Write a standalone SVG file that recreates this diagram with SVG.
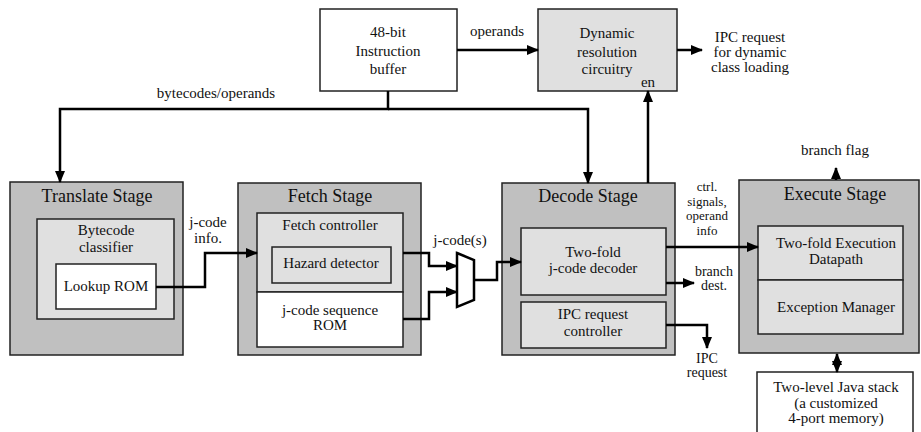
<svg xmlns="http://www.w3.org/2000/svg" width="921" height="432" viewBox="0 0 921 432" font-family="'Liberation Serif', 'DejaVu Serif', serif">
<defs>
<marker id="arr" markerUnits="userSpaceOnUse" markerWidth="12" markerHeight="10" refX="11" refY="5" orient="auto-start-reverse">
<path d="M0,0 L12,5 L0,10 Z" fill="#000"/>
</marker>
<style>
text{font-family:'Liberation Serif','DejaVu Serif',serif;font-size:15px;fill:#111;text-anchor:middle}
.title{font-size:18px}
.sm{font-size:13px}
.md{font-size:14px}
.stage{fill:#c0c0c0;stroke:#222;stroke-width:1.5}
.inner{fill:#e0e0e0;stroke:#222;stroke-width:1.5}
.white{fill:#fff;stroke:#222;stroke-width:1.5}
.conn{fill:none;stroke:#000;stroke-width:2.5}
</style>
</defs>
<rect width="921" height="432" fill="#fff"/>

<g id="instruction-buffer">
<rect class="white" x="320" y="9" width="137" height="82"/>
<text x="388" y="37">48-bit</text>
<text x="388" y="56">Instruction</text>
<text x="388" y="74">buffer</text>
</g>

<g id="dynamic-resolution">
<rect class="inner" x="538" y="9" width="139" height="82"/>
<text x="607" y="38">Dynamic</text>
<text x="607" y="57">resolution</text>
<text x="607" y="74">circuitry</text>
<text x="648" y="87">en</text>
</g>

<g id="translate-stage">
<rect class="stage" x="10" y="182" width="173" height="173"/>
<text class="title" x="97" y="202">Translate Stage</text>
<rect class="inner" x="37" y="219" width="137" height="100"/>
<text x="106" y="235">Bytecode</text>
<text x="106" y="252">classifier</text>
<rect class="white" x="56" y="264" width="100" height="45"/>
<text x="106" y="291">Lookup ROM</text>
</g>

<g id="fetch-stage">
<rect class="stage" x="238" y="183" width="183" height="172"/>
<text class="title" x="330" y="202">Fetch Stage</text>
<rect class="inner" x="257" y="213" width="146" height="79"/>
<text x="330" y="230">Fetch controller</text>
<rect class="inner" x="272" y="247" width="119" height="36"/>
<text x="331" y="268">Hazard detector</text>
<rect class="white" x="257" y="292" width="146" height="55"/>
<text x="330" y="315">j-code sequence</text>
<text x="330" y="330">ROM</text>
</g>

<g id="mux">
<path d="M457,253 L474,260 L474,300 L457,307 Z" fill="#fff" stroke="#000" stroke-width="2.5"/>
<text x="460" y="245">j-code(s)</text>
</g>

<g id="decode-stage">
<rect class="stage" x="502" y="183" width="173" height="172"/>
<text class="title" x="588" y="202">Decode Stage</text>
<rect class="inner" x="521" y="228" width="145" height="67"/>
<text x="593" y="257">Two-fold</text>
<text x="593" y="273">j-code decoder</text>
<rect class="inner" x="521" y="302" width="145" height="46"/>
<text x="593" y="319">IPC request</text>
<text x="593" y="336">controller</text>
</g>

<g id="execute-stage">
<rect class="stage" x="739" y="180" width="180" height="173"/>
<text class="title" x="835" y="200">Execute Stage</text>
<rect class="inner" x="758" y="226" width="145" height="54"/>
<text x="836" y="248">Two-fold Execution</text>
<text x="836" y="264">Datapath</text>
<rect class="inner" x="758" y="280" width="145" height="54"/>
<text x="836" y="312">Exception Manager</text>
</g>

<g id="java-stack">
<rect class="white" x="757" y="372" width="156" height="70"/>
<text x="836" y="392">Two-level Java stack</text>
<text x="836" y="408">(a customized</text>
<text x="836" y="423">4-port memory)</text>
</g>

<g id="labels">
<text x="497" y="36">operands</text>
<text x="750" y="42">IPC request</text>
<text x="750" y="57">for dynamic</text>
<text x="750" y="72">class loading</text>
<text x="216" y="98">bytecodes/operands</text>
<text x="208" y="227">j-code</text>
<text x="208" y="243">info.</text>
<text class="sm" x="707" y="191">ctrl.</text>
<text class="sm" x="707" y="205.5">signals,</text>
<text class="sm" x="707" y="220">operand</text>
<text class="sm" x="707" y="234.5">info</text>
<text class="md" x="714" y="276">branch</text>
<text class="md" x="714" y="290">dest.</text>
<text class="md" x="707" y="363">IPC</text>
<text class="md" x="707" y="377">request</text>
<text x="835" y="155">branch flag</text>
</g>

<g id="connectors">
<path class="conn" d="M457,50 H538" marker-end="url(#arr)"/>
<path class="conn" d="M677,50 H702" marker-end="url(#arr)"/>
<path class="conn" d="M388,91 V109 H60 V182" marker-end="url(#arr)"/>
<path class="conn" d="M388,109 H588 V183" marker-end="url(#arr)"/>
<path class="conn" d="M648,183 V91" marker-end="url(#arr)"/>
<path class="conn" d="M156,287 H205 V253 H257" marker-end="url(#arr)"/>
<path class="conn" d="M403,253 H429 V266 H457" marker-end="url(#arr)"/>
<path class="conn" d="M403,319 H429 V292 H457" marker-end="url(#arr)"/>
<path class="conn" d="M474,280 H497 V262 H521" marker-end="url(#arr)"/>
<path class="conn" d="M666,247 H758" marker-end="url(#arr)"/>
<path class="conn" d="M666,283 H694" marker-end="url(#arr)"/>
<path class="conn" d="M666,325 H707 V348" marker-end="url(#arr)"/>
<path class="conn" d="M836,180 V168" marker-end="url(#arr)"/>
<path class="conn" d="M837,354 V372" marker-start="url(#arr)" marker-end="url(#arr)"/>
</g>
</svg>
